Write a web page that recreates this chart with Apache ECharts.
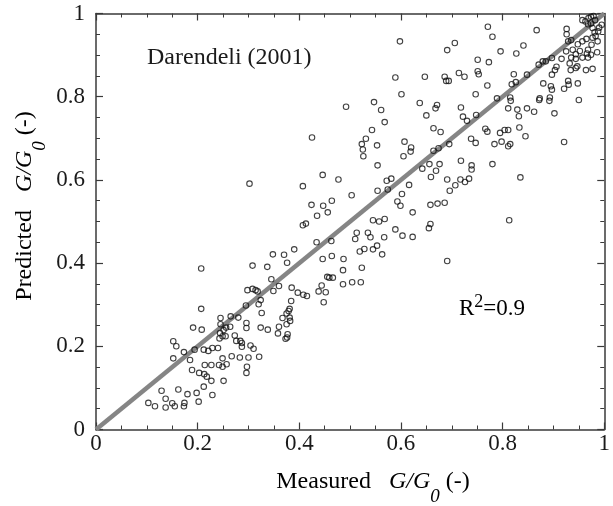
<!DOCTYPE html>
<html><head><meta charset="utf-8">
<script src="https://cdn.jsdelivr.net/npm/echarts@6/dist/echarts.min.js"></script>
<style>html,body{margin:0;padding:0;background:#fff}#c{width:613px;height:506px}</style>
</head><body><div id="c"></div>
<script>
// Measured G/G0 (x) and predicted G/G0 (y)
const measured = [
0.434,0.463,0.348,0.370,0.390,0.308,0.337,0.376,0.207,0.446,
0.464,0.487,0.486,0.345,0.360,0.349,0.314,0.308,0.298,0.318,
0.455,0.459,0.466,0.444,0.438,0.452,0.408,0.415,0.397,0.385,
0.486,0.448,0.384,0.324,0.320,0.295,0.207,0.326,0.379,0.381,
0.375,0.367,0.381,0.382,0.375,0.265,0.280,0.245,0.191,0.208,
0.296,0.296,0.324,0.338,0.360,0.358,0.377,0.245,0.251,0.244,
0.256,0.264,0.243,0.249,0.255,0.273,0.276,0.284,0.287,0.287,
0.304,0.310,0.376,0.373,0.152,0.158,0.173,0.152,0.185,0.194,
0.212,0.229,0.221,0.240,0.267,0.249,0.283,0.300,0.321,0.189,
0.203,0.213,0.214,0.227,0.242,0.249,0.257,0.251,0.297,0.296,
0.218,0.227,0.212,0.180,0.198,0.129,0.162,0.229,0.103,0.116,
0.137,0.137,0.150,0.155,0.174,0.173,0.202,
0.425,0.302,0.407,0.446,0.477,0.424,0.447,0.464,0.456,0.435,0.407,0.413,
0.771,0.780,0.598,0.706,0.691,0.751,0.773,0.589,0.647,0.686,
0.689,0.694,0.714,0.725,0.751,0.753,0.770,0.601,0.747,0.492,
0.547,0.561,0.568,0.637,0.668,0.671,0.650,0.718,0.722,0.730,
0.748,0.543,0.531,0.523,0.525,0.526,0.553,0.554,0.607,0.620,
0.619,0.605,0.664,0.678,0.664,0.674,0.695,0.642,0.656,0.669,
0.676,0.659,0.718,0.739,0.739,0.766,0.770,0.795,0.804,0.811,
0.738,0.747,0.784,0.798,0.811,0.815,0.780,0.833,0.845,0.811,
0.829,0.832,0.848,0.862,0.902,0.921,0.835,0.813,0.696,0.707,
0.717,0.726,0.734,0.691,0.658,0.672,0.686,0.623,0.616,0.602,
0.593,0.599,0.581,0.572,0.574,0.554,0.503,0.545,0.557,0.568,
0.589,0.603,0.623,0.658,0.655,0.513,0.510,0.535,0.540,0.567,
0.519,0.528,0.545,0.553,0.563,0.523,0.504,0.521,0.691,
0.867,0.926,0.926,0.929,0.935,0.796,0.827,0.841,0.957,0.963,
0.969,0.974,0.979,0.982,0.974,0.968,0.977,0.981,0.988,0.990,
0.995,0.957,0.965,0.977,0.983,0.948,0.938,0.925,0.944,0.952,
0.968,0.975,0.987,0.966,0.974,0.986,0.916,0.935,0.944,0.957,
0.968,0.897,0.885,0.879,0.871,0.906,0.903,0.932,0.934,0.944,
0.947,0.964,0.977,0.848,0.822,0.818,0.826,0.897,0.880,0.895,
0.897,0.921,0.929,0.930,0.948,0.789,0.815,0.816,0.873,0.872,
0.893,0.892,0.950
];
const predicted = [
0.450,0.453,0.421,0.420,0.433,0.394,0.391,0.401,0.387,0.410,
0.417,0.410,0.383,0.361,0.345,0.333,0.335,0.338,0.335,0.332,
0.367,0.365,0.365,0.346,0.332,0.330,0.324,0.321,0.329,0.341,
0.349,0.306,0.309,0.311,0.301,0.298,0.290,0.280,0.285,0.290,
0.279,0.268,0.269,0.261,0.253,0.272,0.269,0.268,0.245,0.240,
0.256,0.244,0.245,0.240,0.247,0.231,0.229,0.253,0.239,0.232,
0.245,0.247,0.219,0.224,0.224,0.226,0.213,0.213,0.208,0.199,
0.202,0.194,0.221,0.218,0.212,0.200,0.186,0.171,0.167,0.192,
0.192,0.196,0.189,0.196,0.176,0.171,0.173,0.173,0.175,0.143,
0.136,0.133,0.155,0.155,0.155,0.151,0.157,0.117,0.151,0.136,
0.127,0.117,0.103,0.085,0.088,0.093,0.096,0.083,0.064,0.056,
0.074,0.053,0.063,0.056,0.064,0.056,0.067,
0.702,0.591,0.585,0.612,0.601,0.540,0.538,0.550,0.522,0.514,0.491,0.495,
0.968,0.944,0.933,0.929,0.912,0.889,0.883,0.846,0.848,0.848,
0.838,0.838,0.857,0.848,0.861,0.854,0.827,0.806,0.806,0.776,
0.787,0.768,0.739,0.785,0.772,0.780,0.755,0.774,0.752,0.742,
0.756,0.720,0.699,0.686,0.673,0.657,0.683,0.635,0.692,0.678,
0.668,0.657,0.724,0.715,0.670,0.676,0.686,0.627,0.638,0.622,
0.638,0.607,0.646,0.635,0.625,0.723,0.716,0.713,0.720,0.720,
0.699,0.689,0.686,0.692,0.681,0.686,0.638,0.726,0.705,0.772,
0.769,0.753,0.772,0.764,0.760,0.691,0.606,0.503,0.574,0.587,
0.601,0.595,0.603,0.601,0.540,0.543,0.545,0.522,0.588,0.566,
0.548,0.538,0.603,0.598,0.577,0.574,0.563,0.503,0.500,0.506,
0.481,0.466,0.463,0.494,0.484,0.473,0.458,0.473,0.462,0.462,
0.428,0.434,0.433,0.442,0.421,0.389,0.354,0.354,0.405,
0.960,0.963,0.950,0.933,0.936,0.909,0.904,0.923,0.984,0.981,
0.989,0.992,0.994,0.984,0.976,0.974,0.965,0.955,0.957,0.966,
0.973,0.933,0.939,0.942,0.946,0.926,0.913,0.909,0.902,0.910,
0.913,0.925,0.933,0.904,0.901,0.907,0.891,0.894,0.891,0.894,
0.894,0.893,0.885,0.885,0.877,0.872,0.864,0.880,0.864,0.869,
0.873,0.864,0.867,0.853,0.854,0.830,0.835,0.853,0.832,0.825,
0.817,0.819,0.838,0.829,0.832,0.796,0.798,0.790,0.796,0.792,
0.798,0.790,0.792
];
// 1:1 reference line
const lineX = [0, 1];
const lineY = [0, 1];
const axisMin = 0, axisMax = 1, axisStep = 0.2;

const FONT = '"Liberation Serif","Times New Roman",serif';
const TXT = '#1a1a1a';
const AX = '#3a3a3a';

const pts = measured.map((v, i) => [v, predicted[i]]);
const linePts = lineX.map((v, i) => [v, lineY[i]]);

function axis(pos, showLabel, isY) {
  return {
    type: 'value', position: pos, min: axisMin, max: axisMax, interval: axisStep,
    axisLine: { show: true, onZero: false, lineStyle: { color: AX, width: 1.5 } },
    axisTick: { show: true, inside: true, length: 7, lineStyle: { color: AX, width: 1.2 } },
    minorTick: { show: true, splitNumber: 4, length: 4, lineStyle: { color: AX, width: 1 } },
    splitLine: { show: false },
    minorSplitLine: { show: false },
    axisLabel: { show: showLabel, color: TXT, fontFamily: FONT, fontSize: 23, margin: isY ? 11 : 3 }
  };
}

const rich = {
  m: { fontFamily: FONT, fontSize: 24, color: TXT, verticalAlign: 'top' },
  i: { fontFamily: FONT, fontSize: 24, color: TXT, fontStyle: 'italic', verticalAlign: 'top' },
  s: { fontFamily: FONT, fontSize: 19, color: TXT, fontStyle: 'italic', verticalAlign: 'bottom', padding: [17, 0, 0, 0] }
};
const richR = {
  m: { fontFamily: FONT, fontSize: 23, color: TXT, verticalAlign: 'bottom', padding: [4, 0, 0, 0] },
  p: { fontFamily: FONT, fontSize: 18, color: TXT, verticalAlign: 'top' }
};

const chart = echarts.init(document.getElementById('c'), null, { renderer: 'canvas' });
chart.setOption({
  animation: false,
  backgroundColor: '#fff',
  grid: { left: 96, right: 1, top: 13.5, bottom: 76.5, containLabel: false },
  xAxis: [axis('bottom', true, false), axis('top', false, false)],
  yAxis: [axis('left', true, true), axis('right', false, true)],
  series: [
    { type: 'line', data: linePts, symbol: 'none', z: 1, silent: true,
      lineStyle: { color: '#858585', width: 4.5 } },
    { type: 'scatter', data: pts, symbol: 'circle', symbolSize: 5.5, z: 3, silent: true,
      itemStyle: { color: 'rgba(255,255,255,0)', borderColor: '#111', borderWidth: 1.1 } }
  ],
  graphic: [
    { type: 'text', x: 147, y: 58, style: { text: 'Darendeli (2001)', fontFamily: FONT, fontSize: 24, fill: TXT, align: 'left', verticalAlign: 'middle' } },
    { type: 'text', x: 459, y: 307, style: { text: '{m|R}{p|2}{m|=0.9}', rich: richR, align: 'left', verticalAlign: 'middle' } },
    { type: 'text', x: 373, y: 488, style: { text: '{m|Measured   }{i|G/G}{s|0}{m| (-)}', rich: rich, align: 'center', verticalAlign: 'middle' } },
    { type: 'text', x: 31, y: 206, rotation: Math.PI / 2, style: { text: '{m|Predicted   }{i|G/G}{s|0}{m| (-)}', rich: rich, align: 'center', verticalAlign: 'middle' } }
  ]
});
</script>
</body></html>
